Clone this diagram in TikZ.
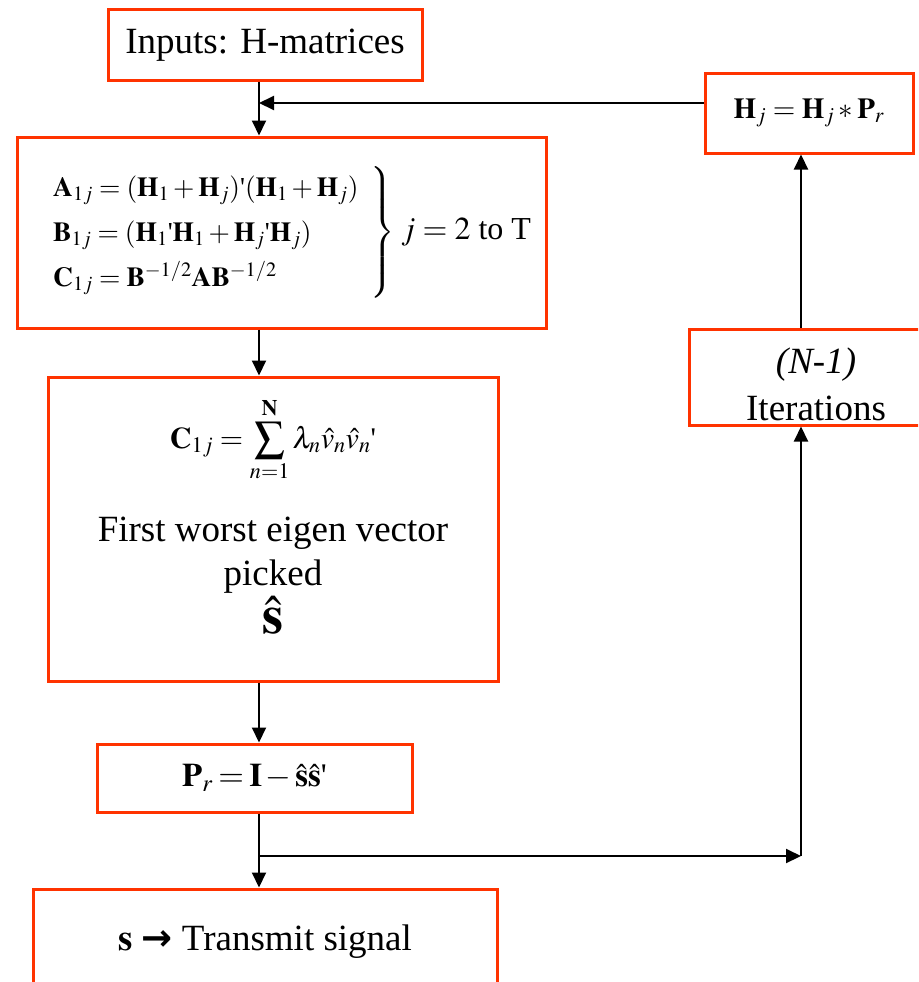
\documentclass[tikz,border=0pt]{standalone}
\usepackage{mathptmx}
\usepackage{fontspec}
\setmainfont{Liberation Serif}
\newfontfamily\arrowfont{DejaVu Sans}
\usetikzlibrary{arrows.meta}
\definecolor{Vermilion}{HTML}{FF3300}
\newcommand\trp{\mbox{\textquotesingle}}

\begin{document}
\begin{tikzpicture}[
    x=1pt,y=-1pt,
    font=\fontsize{37}{44}\selectfont,
    stage/.style={draw=Vermilion,line width=3pt,align=center,inner sep=0pt},
    arrow/.style={-{Triangle[length=15pt,width=14pt]},line width=2pt},
    link/.style={line width=2pt}
]
\useasboundingbox (0,0) rectangle (918,982);
\clip (0,0) rectangle (918,982);
\coordinate (trunk) at (259,103);
\coordinate (split) at (259,856);
\coordinate (riser) at (801,856);

\node[stage,minimum width=314pt,minimum height=70pt] (inputs) at (265,45) {Inputs: H-matrices};

\node[stage,minimum width=529pt,minimum height=191pt] (coupled) at (281.5,232.5) {\hspace{20pt}{\fontsize{27.5}{30}\selectfont\renewcommand\arraystretch{1.5}$\left.\begin{array}{@{}l@{\hspace{12pt}}}
\mathbf{A}_{1j} = (\mathbf{H}_1+\mathbf{H}_j)\trp(\mathbf{H}_1+\mathbf{H}_j)\\
\mathbf{B}_{1j} = (\mathbf{H}_1\trp\mathbf{H}_1+\mathbf{H}_j\trp\mathbf{H}_j)\\
\mathbf{C}_{1j} = \mathbf{B}^{-1/2}\mathbf{A}\mathbf{B}^{-1/2}
\end{array}\right\}$}\hspace{6pt}{\fontsize{32}{40}\selectfont$j=2$ to T}};

\node[stage,minimum width=450pt,minimum height=304pt,text depth=26pt] (eigen) at (273,529) {{\fontsize{30}{37}\selectfont$\displaystyle\mathbf{C}_{1j}=\sum_{n=1}^{\mathbf{N}}\lambda_n\hat{v}_n\hat{v}_n{}\trp$}\\[34pt]
First worst eigen vector\\ picked\\[2pt] {\fontsize{54}{50}\selectfont$\hat{\mathbf{s}}$}};

\node[stage,minimum width=315pt,minimum height=68pt] (project) at (254.5,778) {{\fontsize{33}{37}\selectfont\thickmuskip=3mu\medmuskip=2mu$\mathbf{P}_r=\mathbf{I}-\hat{\mathbf{s}}\hat{\mathbf{s}}\trp$}};

\node[stage,minimum width=464pt,minimum height=106pt] (output) at (265,942) {$\mathbf{s}$ {\arrowfont\bfseries →} Transmit signal};

\node[stage,minimum width=254pt,minimum height=96pt,font=\fontsize{37}{47}\selectfont,text height=86pt,text depth=0pt] (iterate) at (816,377) {\textit{(N-1)}\\ Iterations};

\node[stage,minimum width=208pt,minimum height=80pt] (update) at (809,113) {{\fontsize{29}{30}\selectfont$\mathbf{H}_j=\mathbf{H}_j*\mathbf{P}_r$}};

\draw[link] (inputs.south -| trunk)--(trunk);
\draw[arrow] (update.west |- trunk)--(trunk);
\draw[arrow] (trunk)--(coupled.north -| trunk);
\draw[arrow] (coupled.south -| trunk)--(eigen.north -| trunk);
\draw[arrow] (eigen.south -| trunk)--(project.north -| trunk);
\draw[arrow] (project.south -| trunk)--(output.north -| trunk);
\draw[arrow] (split)--(riser);
\draw[arrow] (riser)--(iterate.south -| riser);
\draw[arrow] (iterate.north -| riser)--(update.south -| riser);
\end{tikzpicture}
\end{document}
